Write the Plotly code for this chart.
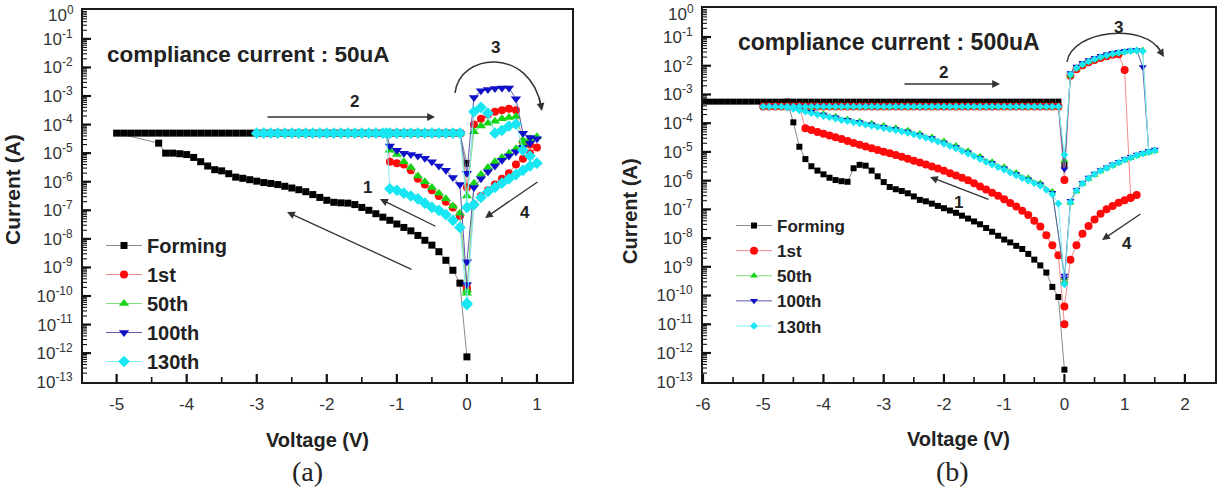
import math
import plotly.graph_objects as go

W, H = 1227, 489
SANS = "Liberation Sans, Arial, sans-serif"
SERIF = "Liberation Serif, Times New Roman, serif"


def px(x):
    return x / W


def py(y):
    return 1 - y / H


def amps(exps):
    return [10.0 ** e for e in exps]


# ======================= panel (a): compliance 50 uA =======================
a_form_set_v = [0.0, -0.1, -0.2, -0.3, -0.4, -0.5, -0.6, -0.7, -0.8, -0.9,
                -1.0, -1.1, -1.2, -1.3, -1.4, -1.5, -1.6, -1.7, -1.8, -1.9,
                -2.0, -2.1, -2.2, -2.3, -2.4, -2.5, -2.6, -2.7, -2.8, -2.9,
                -3.0, -3.1, -3.2, -3.3, -3.4, -3.5, -3.6, -3.7, -3.8, -3.9,
                -4.0, -4.1, -4.2, -4.3, -4.4]
a_form_set_logI = [-12.13, -9.55, -9.10, -8.75, -8.45, -8.22, -8.05, -7.88, -7.72, -7.60,
                   -7.48, -7.35, -7.24, -7.12, -7.00, -6.90, -6.80, -6.75, -6.74, -6.72,
                   -6.65, -6.55, -6.45, -6.35, -6.28, -6.22, -6.16, -6.10, -6.06, -6.03,
                   -5.98, -5.93, -5.88, -5.84, -5.72, -5.62, -5.58, -5.45, -5.30, -5.15,
                   -5.05, -5.02, -5.00, -5.00, -4.65]
a_comp_v = [-5.0, -4.9, -4.8, -4.7, -4.6, -4.5, -4.4, -4.3, -4.2, -4.1,
            -4.0, -3.9, -3.8, -3.7, -3.6, -3.5, -3.4, -3.3, -3.2, -3.1,
            -3.0, -2.9, -2.8, -2.7, -2.6, -2.5, -2.4, -2.3, -2.2, -2.1,
            -2.0, -1.9, -1.8, -1.7, -1.6, -1.5, -1.4, -1.3, -1.2, -1.1,
            -1.0, -0.9, -0.8, -0.7, -0.6, -0.5, -0.4, -0.3, -0.2, -0.1]
a_comp_logI = [-4.30, -4.30, -4.30, -4.30, -4.30, -4.30, -4.30, -4.30, -4.30, -4.30,
               -4.30, -4.30, -4.30, -4.30, -4.30, -4.30, -4.30, -4.30, -4.30, -4.30,
               -4.30, -4.30, -4.30, -4.30, -4.30, -4.30, -4.30, -4.30, -4.30, -4.30,
               -4.30, -4.30, -4.30, -4.30, -4.30, -4.30, -4.30, -4.30, -4.30, -4.30,
               -4.30, -4.30, -4.30, -4.30, -4.30, -4.30, -4.30, -4.30, -4.30, -4.30]
a_form_end_v = [0.0]
a_form_end_logI = [-5.36]

a_set_v = [0.0, -0.1, -0.2, -0.3, -0.4, -0.5, -0.6, -0.7, -0.8, -0.9, -1.0, -1.1]
a_jump_v = [-1.15]
a_jump_logI = [-4.30]
a_fwd_v = [0.0, 0.1, 0.2, 0.3, 0.4, 0.5, 0.6, 0.7, 0.8, 0.9, 1.0]
a_ret_v = [0.9, 0.8, 0.7, 0.6, 0.5, 0.4, 0.3, 0.2, 0.1, 0.0]

a_1st_set_logI = [-9.7, -7.2, -6.9, -6.7, -6.5, -6.3, -6.1, -5.9, -5.6, -5.4, -5.35, -5.3]
a_1st_fwd_logI = [-6.2, -4.0, -3.8, -3.65, -3.55, -3.5, -3.45, -3.5, -4.6, -4.7, -4.8]
a_1st_ret_logI = [-5.0, -5.2, -5.4, -5.7, -5.9, -6.1, -6.3, -6.5, -6.8, -9.8]

a_50_set_logI = [-9.8, -7.1, -6.85, -6.6, -6.4, -6.2, -6.0, -5.8, -5.5, -5.3, -5.05, -4.9]
a_50_fwd_logI = [-6.5, -4.25, -4.05, -3.95, -3.88, -3.8, -3.75, -3.72, -4.55, -4.5, -4.43]
a_50_ret_logI = [-4.55, -4.7, -4.85, -5.0, -5.15, -5.3, -5.5, -5.75, -6.05, -9.9]

a_100_set_logI = [-9.6, -6.1, -5.85, -5.6, -5.45, -5.3, -5.18, -5.1, -5.05, -5.0, -4.9, -4.75]
a_100_fwd_logI = [-5.7, -3.05, -2.82, -2.77, -2.74, -2.72, -2.72, -3.1, -4.3, -4.45, -4.5]
a_100_ret_logI = [-4.65, -4.8, -4.95, -5.1, -5.25, -5.45, -5.65, -5.9, -6.2, -8.8]

a_130_set_logI = [-10.25, -7.6, -7.35, -7.15, -7.0, -6.9, -6.75, -6.6, -6.5, -6.4, -6.3, -6.25]
a_130_fwd_logI = [-6.9, -3.55, -3.4, -3.6, -4.3, -4.2, -4.05, -3.98, -4.9, -5.1, -5.35]
a_130_ret_logI = [-5.45, -5.6, -5.75, -5.9, -6.05, -6.2, -6.35, -6.55, -6.8, -10.3]

# ======================= panel (b): compliance 500 uA =======================
b_form_set_v = [0.0, -0.1, -0.2, -0.3, -0.4, -0.5, -0.6, -0.7, -0.8, -0.9,
                -1.0, -1.1, -1.2, -1.3, -1.4, -1.5, -1.6, -1.7, -1.8, -1.9,
                -2.0, -2.1, -2.2, -2.3, -2.4, -2.5, -2.6, -2.7, -2.8, -2.9,
                -3.0, -3.1, -3.2, -3.3, -3.4, -3.5, -3.6, -3.7, -3.8, -3.9,
                -4.0, -4.1, -4.2, -4.3, -4.4, -4.5]
b_form_set_logI = [-12.58, -10.05, -9.70, -9.20, -8.95, -8.75, -8.55, -8.38, -8.27, -8.15,
                   -8.05, -7.92, -7.78, -7.65, -7.52, -7.42, -7.32, -7.22, -7.12, -7.04,
                   -6.96, -6.88, -6.80, -6.72, -6.67, -6.55, -6.44, -6.36, -6.30, -6.22,
                   -6.05, -5.85, -5.65, -5.48, -5.45, -5.57, -6.04, -6.02, -5.98, -5.90,
                   -5.78, -5.65, -5.50, -5.25, -4.82, -3.97]
b_form_jump_v = [-4.6]
b_form_jump_logI = [-3.25]
b_comp_v = [-6.0, -5.9, -5.8, -5.7, -5.6, -5.5, -5.4, -5.3, -5.2, -5.1,
            -5.0, -4.9, -4.8, -4.7, -4.6, -4.5, -4.4, -4.3, -4.2, -4.1,
            -4.0, -3.9, -3.8, -3.7, -3.6, -3.5, -3.4, -3.3, -3.2, -3.1,
            -3.0, -2.9, -2.8, -2.7, -2.6, -2.5, -2.4, -2.3, -2.2, -2.1,
            -2.0, -1.9, -1.8, -1.7, -1.6, -1.5, -1.4, -1.3, -1.2, -1.1,
            -1.0, -0.9, -0.8, -0.7, -0.6, -0.5, -0.4, -0.3, -0.2, -0.1]
b_form_comp_logI = [-3.25, -3.25, -3.25, -3.25, -3.25, -3.25, -3.25, -3.25, -3.25, -3.25,
                    -3.25, -3.25, -3.25, -3.25, -3.25, -3.25, -3.25, -3.25, -3.25, -3.25,
                    -3.25, -3.25, -3.25, -3.25, -3.25, -3.25, -3.25, -3.25, -3.25, -3.25,
                    -3.25, -3.25, -3.25, -3.25, -3.25, -3.25, -3.25, -3.25, -3.25, -3.25,
                    -3.25, -3.25, -3.25, -3.25, -3.25, -3.25, -3.25, -3.25, -3.25, -3.25,
                    -3.25, -3.25, -3.25, -3.25, -3.25, -3.25, -3.25, -3.25, -3.25, -3.25]
b_form_end_v = [0.0]
b_form_end_logI = [-5.45]

b_cyc_comp_logI = [-3.42, -3.42, -3.42, -3.42, -3.42, -3.42, -3.42, -3.42, -3.42, -3.42,
                   -3.42, -3.42, -3.42, -3.42, -3.42, -3.42, -3.42, -3.42, -3.42, -3.42,
                   -3.42, -3.42, -3.42, -3.42, -3.42, -3.42, -3.42, -3.42, -3.42, -3.42,
                   -3.42, -3.42, -3.42, -3.42, -3.42, -3.42, -3.42, -3.42, -3.42, -3.42,
                   -3.42, -3.42, -3.42, -3.42, -3.42, -3.42, -3.42, -3.42, -3.42, -3.42]

b_red_set_v = [0.0, -0.1, -0.2, -0.3, -0.4, -0.5, -0.6, -0.7, -0.8, -0.9,
               -1.0, -1.1, -1.2, -1.3, -1.4, -1.5, -1.6, -1.7, -1.8, -1.9,
               -2.0, -2.1, -2.2, -2.3, -2.4, -2.5, -2.6, -2.7, -2.8, -2.9,
               -3.0, -3.1, -3.2, -3.3, -3.4, -3.5, -3.6, -3.7, -3.8, -3.9,
               -4.0, -4.1, -4.2, -4.3]
b_1st_set_logI = [-11.0, -8.6, -8.25, -7.9, -7.6, -7.4, -7.2, -7.05, -6.9, -6.78,
                  -6.65, -6.53, -6.42, -6.31, -6.2, -6.09, -5.99, -5.9, -5.82, -5.74,
                  -5.66, -5.58, -5.51, -5.44, -5.37, -5.31, -5.24, -5.17, -5.11, -5.05,
                  -4.99, -4.93, -4.87, -4.81, -4.75, -4.69, -4.62, -4.55, -4.49, -4.43,
                  -4.37, -4.31, -4.24, -4.18]
b_red_jump_v = [-4.4]
b_red_jump_logI = [-3.42]
b_red_fwd_v = [0.0, 0.1, 0.2, 0.3, 0.4, 0.5, 0.6, 0.7, 0.8, 0.9, 1.0]
b_1st_fwd_logI = [-5.98, -2.35, -2.12, -1.98, -1.88, -1.8, -1.73, -1.67, -1.62, -1.6, -2.15]
b_red_ret_v = [1.1, 1.2, 1.1, 1.0, 0.9, 0.8, 0.7, 0.6, 0.5, 0.4, 0.3, 0.2, 0.1, 0.0]
b_1st_ret_logI = [-6.6, -6.5, -6.6, -6.68, -6.77, -6.88, -7.0, -7.15, -7.35, -7.58,
                  -7.85, -8.25, -8.75, -10.38]

b_set2_v = [0.0, -0.2, -0.4, -0.6, -0.8, -1.0, -1.2, -1.4, -1.6, -1.8, -2.0, -2.2,
            -2.4, -2.6, -2.8, -3.0, -3.2, -3.4, -3.6, -3.8, -4.0, -4.2, -4.4, -4.6]
b_50_set_logI = [-9.4, -6.38, -6.08, -5.9, -5.72, -5.52, -5.34, -5.15, -4.96, -4.78, -4.62, -4.48,
                 -4.36, -4.25, -4.16, -4.08, -4.0, -3.93, -3.85, -3.76, -3.67, -3.58, -3.49, -3.43]
b_100_set_logI = [-9.3, -6.42, -6.13, -5.95, -5.77, -5.57, -5.39, -5.2, -5.01, -4.83, -4.67, -4.52,
                  -4.4, -4.29, -4.2, -4.12, -4.04, -3.96, -3.88, -3.79, -3.7, -3.6, -3.5, -3.43]

b_set_v = [0.0, -0.1, -0.2, -0.3, -0.4, -0.5, -0.6, -0.7, -0.8, -0.9,
           -1.0, -1.1, -1.2, -1.3, -1.4, -1.5, -1.6, -1.7, -1.8, -1.9,
           -2.0, -2.1, -2.2, -2.3, -2.4, -2.5, -2.6, -2.7, -2.8, -2.9,
           -3.0, -3.1, -3.2, -3.3, -3.4, -3.5, -3.6, -3.7, -3.8, -3.9,
           -4.0, -4.1, -4.2, -4.3, -4.4, -4.5, -4.6]
b_130_set_logI = [-9.6, -6.80, -6.48, -6.32, -6.18, -6.09, -6.00, -5.91, -5.82, -5.72,
                  -5.62, -5.53, -5.44, -5.35, -5.25, -5.15, -5.06, -4.97, -4.88, -4.80,
                  -4.72, -4.64, -4.57, -4.51, -4.45, -4.39, -4.34, -4.29, -4.25, -4.21,
                  -4.17, -4.13, -4.09, -4.05, -4.01, -3.97, -3.93, -3.89, -3.84, -3.79,
                  -3.75, -3.70, -3.65, -3.60, -3.55, -3.50, -3.46]

b_fwd_v = [0.0, 0.1, 0.2, 0.3, 0.4, 0.5, 0.6, 0.7, 0.8, 0.9, 1.0, 1.1, 1.2, 1.3]
b_ret_v = [1.4, 1.5, 1.4, 1.3, 1.2, 1.1, 1.0, 0.9, 0.8, 0.7, 0.6, 0.5, 0.4, 0.3, 0.2, 0.1, 0.0]
b_50_fwd_logI = [-5.3, -2.35, -2.1, -1.97, -1.87, -1.78, -1.71, -1.65, -1.6, -1.56, -1.52, -1.49, -1.47, -1.45]
b_50_ret_logI = [-5.02, -4.97, -5.02, -5.08, -5.14, -5.22, -5.3, -5.39, -5.48, -5.58,
                 -5.68, -5.8, -5.94, -6.12, -6.38, -6.78, -9.5]
b_100_fwd_logI = [-5.6, -2.25, -2.03, -1.9, -1.8, -1.72, -1.65, -1.6, -1.55, -1.51, -1.48, -1.46, -1.45, -2.04]
b_100_ret_logI = [-4.98, -4.92, -4.97, -5.03, -5.09, -5.17, -5.25, -5.34, -5.43, -5.53,
                  -5.63, -5.75, -5.89, -6.07, -6.32, -6.7, -9.4]
b_130_fwd_logI = [-5.1, -2.3, -2.08, -1.95, -1.85, -1.77, -1.70, -1.64, -1.59, -1.55, -1.52, -1.49, -1.47, -1.5]
b_130_ret_logI = [-5.0, -4.95, -5.0, -5.06, -5.12, -5.2, -5.28, -5.37, -5.46, -5.56,
                  -5.66, -5.78, -5.92, -6.1, -6.35, -6.75, -9.6]

names = ["Forming", "1st", "50th", "100th", "130th"]
mcolors = ["#000000", "#ff0a0a", "#14d414", "#1010c8", "#18e6f2"]
lcolors = ["#8a8a8a", "#f08a8a", "#80dd80", "#5a5ab0", "#80eef5"]
symbols = ["square", "circle", "triangle-up", "triangle-down", "diamond"]

fig = go.Figure()


def add(v, logI, k, xa, ya, leg, size):
    fig.add_trace(go.Scatter(
        x=v, y=amps(logI), mode="lines+markers", name=names[k],
        line=dict(color=lcolors[k], width=1),
        marker=dict(symbol=symbols[k], size=size, color=mcolors[k], line=dict(width=0)),
        xaxis=xa, yaxis=ya, legend=leg))


add(a_form_set_v + a_comp_v + a_form_end_v,
    a_form_set_logI + a_comp_logI + a_form_end_logI, 0, "x", "y", "legend", 7)
a_cyc = [(a_1st_set_logI, a_1st_fwd_logI, a_1st_ret_logI, 8),
         (a_50_set_logI, a_50_fwd_logI, a_50_ret_logI, 9),
         (a_100_set_logI, a_100_fwd_logI, a_100_ret_logI, 9),
         (a_130_set_logI, a_130_fwd_logI, a_130_ret_logI, 9)]
for k, (s, f, r, sz) in enumerate(a_cyc, start=1):
    add(a_set_v + a_jump_v + a_comp_v[20:] + a_fwd_v + a_ret_v,
        s + a_jump_logI + a_comp_logI[20:] + f + r, k, "x", "y", "legend", sz)

add(b_form_set_v + b_form_jump_v + b_comp_v + b_form_end_v,
    b_form_set_logI + b_form_jump_logI + b_form_comp_logI + b_form_end_logI,
    0, "x2", "y2", "legend2", 6)
add(b_red_set_v + b_red_jump_v + b_comp_v[10:] + b_red_fwd_v + b_red_ret_v,
    b_1st_set_logI + b_red_jump_logI + b_cyc_comp_logI + b_1st_fwd_logI + b_1st_ret_logI,
    1, "x2", "y2", "legend2", 8)
add(b_set2_v + b_comp_v[10:] + b_fwd_v + b_ret_v,
    b_50_set_logI + b_cyc_comp_logI + b_50_fwd_logI + b_50_ret_logI, 2, "x2", "y2", "legend2", 7)
add(b_set2_v + b_comp_v[10:] + b_fwd_v + b_ret_v,
    b_100_set_logI + b_cyc_comp_logI + b_100_fwd_logI + b_100_ret_logI, 3, "x2", "y2", "legend2", 7)
add(b_set_v + b_comp_v[10:] + b_fwd_v + b_ret_v,
    b_130_set_logI + b_cyc_comp_logI + b_130_fwd_logI + b_130_ret_logI, 4, "x2", "y2", "legend2", 6)

# ---- axes
YR = [-13.01, 0.01]
y_exps = list(range(-13, 0))          # 10^0 is written separately so it is not cut at the top
y_tickvals = [10.0 ** e for e in y_exps]
y_ticktext = ["10<sup>%d</sup>" % e for e in y_exps]

tickfont = dict(family=SANS, size=17, color="#333333")
base_x = dict(showline=True, mirror=True, linecolor="#1a1a1a", linewidth=2,
              ticks="", automargin=False, showgrid=False, zeroline=False, tickfont=tickfont,
              ticklabelstandoff=6)
base_y = dict(type="log", range=YR, showline=True, mirror=True, linecolor="#1a1a1a",
              linewidth=2, ticks="", automargin=False, showgrid=False, zeroline=False,
              tickfont=tickfont, ticklabelstandoff=5,
              tickmode="array", tickvals=y_tickvals, ticktext=y_ticktext)

a_xrange = [-5.48, 1.5]
b_xrange = [-6.0, 2.5]
a_xticks = [-5, -4, -3, -2, -1, 0, 1]
b_xticks = [-6, -5, -4, -3, -2, -1, 0, 1, 2]

# panel frames in pixels (left, right, top, bottom) -- same numbers as the axis domains
A_BOX = (83, 572, 10, 382)
B_BOX = (703, 1215, 8, 382)

fig.update_layout(
    template="none",
    width=W, height=H, margin=dict(l=0, r=0, t=0, b=0, autoexpand=False),
    paper_bgcolor="white", plot_bgcolor="white",
    font=dict(family=SANS, color="#222222"),
    xaxis=dict(domain=[px(A_BOX[0]), px(A_BOX[1])], range=a_xrange, anchor="y",
               tickmode="array", tickvals=a_xticks, ticktext=[str(t) for t in a_xticks], **base_x),
    yaxis=dict(domain=[py(A_BOX[3]), py(A_BOX[2])], anchor="x", **base_y),
    xaxis2=dict(domain=[px(B_BOX[0]), px(B_BOX[1])], range=b_xrange, anchor="y2",
                tickmode="array", tickvals=b_xticks, ticktext=[str(t) for t in b_xticks], **base_x),
    yaxis2=dict(domain=[py(B_BOX[3]), py(B_BOX[2])], anchor="x2", **base_y),
    legend=dict(x=px(101), y=py(226), xanchor="left", yanchor="top", bgcolor="rgba(0,0,0,0)",
                borderwidth=0, itemwidth=36,
                font=dict(family=SANS, size=20, color="#222222", weight="bold"),
                tracegroupgap=0),
    legend2=dict(x=px(731), y=py(208), xanchor="left", yanchor="top", bgcolor="rgba(0,0,0,0)",
                 borderwidth=0, itemwidth=36,
                 font=dict(family=SANS, size=17, color="#222222", weight="bold"),
                 tracegroupgap=0),
    showlegend=True,
)

# ---- inward tick marks drawn as paper-space line shapes (axis decoration)
TICK = "#111111"
shapes = []


def seg(x0, y0, x1, y1, width):
    shapes.append(dict(type="line", xref="paper", yref="paper",
                       x0=px(x0), y0=py(y0), x1=px(x1), y1=py(y1),
                       line=dict(color=TICK, width=width)))


for (box, xr, majors) in [(A_BOX, a_xrange, a_xticks), (B_BOX, b_xrange, b_xticks)]:
    L, R, T, B = box

    def xpix(v):
        return L + (v - xr[0]) / (xr[1] - xr[0]) * (R - L)

    def ypix(val):
        return B - (math.log10(val) - YR[0]) / (YR[1] - YR[0]) * (B - T)

    for t in majors:
        seg(xpix(t), B, xpix(t), B - 8, 2.2)
    for t in [majors[0] - 1] + majors:
        m = t + 0.5
        if xr[0] < m < xr[1]:
            seg(xpix(m), B, xpix(m), B - 5, 1.6)
    for e in range(-12, 0):
        yy = ypix(10.0 ** e)
        seg(L, yy, L + 8, yy, 2.2)
    for e in range(-13, 0):
        for m in range(2, 10):
            yy = ypix(m * 10.0 ** e)
            seg(L, yy, L + 4, yy, 1.1)

ann = []


def text(x, y, s, size=17, bold=True, family=SANS, xanchor="center", angle=0, color="#222222"):
    ann.append(dict(x=px(x), y=py(y), xref="paper", yref="paper", text=("<b>%s</b>" % s) if bold else s,
                    showarrow=False, xanchor=xanchor, yanchor="middle", textangle=angle,
                    font=dict(family=family, size=size, color=color)))


text(76, 14, "10<sup>0</sup>", size=17, bold=False, xanchor="right", color="#333333")
text(696, 13, "10<sup>0</sup>", size=17, bold=False, xanchor="right", color="#333333")
text(105, 55, "compliance current : 50uA", size=22.5, xanchor="left")
text(736, 42, "compliance current : 500uA", size=23, xanchor="left")
text(318, 440, "Voltage (V)", size=20)
text(958, 439, "Voltage (V)", size=20)
text(12, 190, "Current (A)", size=21, angle=-90)
text(630, 211, "Current (A)", size=20, angle=-90)
text(307, 471, "(a)", size=28, bold=False, family=SERIF)
text(952, 471, "(b)", size=28, bold=False, family=SERIF)
for (x, y, s) in [(354, 101, "2"), (495, 48, "3"), (367, 188, "1"), (525, 212, "4"),
                  (943, 72, "2"), (1118, 27, "3"), (958, 202, "1"), (1127, 243, "4")]:
    text(x, y, s, size=17)


def arrow(hx, hy, tx, ty):
    ann.append(dict(x=px(hx), y=py(hy), xref="paper", yref="paper", text="", showarrow=True,
                    axref="pixel", ayref="pixel", ax=tx - hx, ay=ty - hy,
                    arrowhead=2, arrowsize=1.2, arrowwidth=1.3, arrowcolor="#333333"))


arrow(435, 117, 266, 117)
arrow(380, 199, 437, 227)
arrow(485, 218, 539, 181)
arrow(287, 212, 413, 270)
arrow(1000, 84, 903, 84)
arrow(930, 177, 990, 200)
arrow(1102, 240, 1142, 213)
arrow(542, 111, 539, 96)
arrow(1164, 57, 1156, 44)


def curve(p0, c1, c2, p3):
    pts = [p0, c1, c2, p3]
    s = "M %f,%f C %f,%f %f,%f %f,%f" % tuple(v for p in pts for v in (px(p[0]), py(p[1])))
    return dict(type="path", xref="paper", yref="paper", path=s,
                line=dict(color="#333333", width=1.5))


shapes += [curve((455, 93), (460, 52), (530, 47), (541, 106)),
           curve((1067, 62), (1072, 30), (1145, 22), (1161, 52))]
fig.update_layout(annotations=ann, shapes=shapes)

fig.write_html("out.html", config={"displayModeBar": False},
               post_script="document.body.style.margin='0';document.body.style.overflow='hidden';")
